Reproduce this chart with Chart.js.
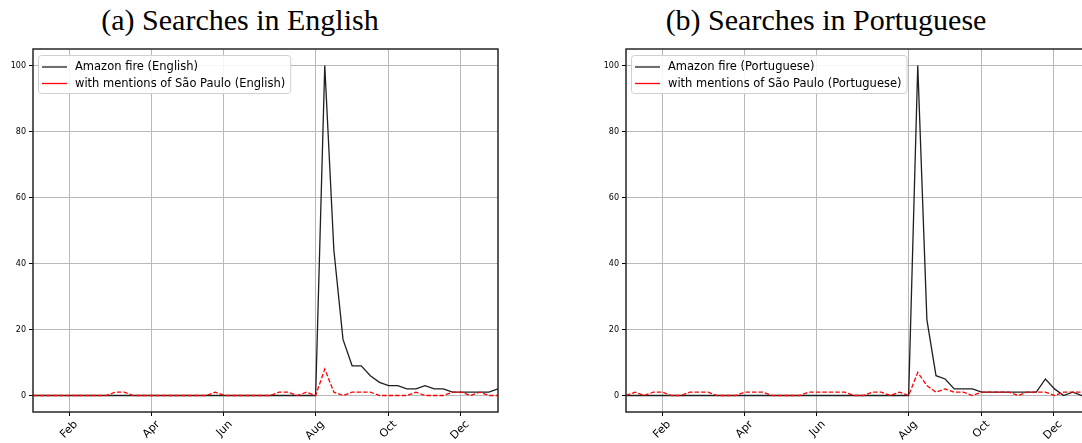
<!DOCTYPE html>
<html>
<head>
<meta charset="utf-8">
<script src="https://cdn.jsdelivr.net/npm/chart.js@4.4.1/dist/chart.umd.min.js"></script>
<style>
  html, body { margin: 0; padding: 0; background: #fff; }
  body { width: 1082px; height: 443px; overflow: hidden; position: relative; }
  canvas { position: absolute; top: 0; }
  #chartEn { left: 0; }
  #chartPt { left: 593px; }
  .caption {
    position: absolute; top: 3px; width: 500px; text-align: center;
    font-family: "Liberation Serif", serif; font-size: 30px; line-height: 34px; color: #000;
  }
</style>
</head>
<body>
<div class="caption" style="left: -10px;">(a) Searches in English</div>
<div class="caption" style="left: 576px;">(b) Searches in Portuguese</div>
<canvas id="chartEn" width="510" height="443"></canvas>
<canvas id="chartPt" width="510" height="443"></canvas>
<script>
// Weekly search interest (0-100), one value per week of the year
const englishFire = [
  0, 0, 0, 0, 0, 0, 0, 0, 0, 0, 0, 0, 0, 0, 0, 0, 0, 0, 0, 0,
  0, 0, 0, 0, 0, 0, 0, 0, 0, 0, 0, 0, 100, 44, 17, 9, 9, 6, 4, 3,
  3, 2, 2, 3, 2, 2, 1, 1, 1, 1, 1, 2
];
const englishSaoPaulo = [
  0, 0, 0, 0, 0, 0, 0, 0, 0, 1, 1, 0, 0, 0, 0, 0, 0, 0, 0, 0,
  1, 0, 0, 0, 0, 0, 0, 1, 1, 0, 1, 0, 8, 1, 0, 1, 1, 1, 0, 0,
  0, 0, 1, 0, 0, 0, 1, 1, 0, 1, 0, 0
];
const portugueseFire = [
  0, 0, 0, 0, 0, 0, 0, 0, 0, 0, 0, 0, 0, 0, 0, 0, 0, 0, 0, 0,
  0, 0, 0, 0, 0, 0, 0, 0, 0, 0, 0, 0, 100, 23, 6, 5, 2, 2, 2, 1,
  1, 1, 1, 1, 1, 1, 5, 2, 0, 1, 0, 0
];
const portugueseSaoPaulo = [
  0, 1, 0, 1, 1, 0, 0, 1, 1, 1, 0, 0, 0, 1, 1, 1, 0, 0, 0, 0,
  1, 1, 1, 1, 1, 0, 0, 1, 1, 0, 1, 0, 7, 3, 1, 2, 1, 1, 0, 1,
  1, 1, 1, 0, 1, 1, 1, 0, 1, 1, 1, 1
];

// Month labels and where they fall on the week axis
const monthLabels = ['Feb', 'Apr', 'Jun', 'Aug', 'Oct', 'Dec'];
const monthTickWeeks = [3.95, 12.95, 20.9, 31.0, 38.95, 46.9];
const yTickValues = [0, 20, 40, 60, 80, 100];

const SPINE = '#262626';
const GRID = '#b8b8b8';

// Axes frame drawn over the data, like matplotlib spines
const framePlugin = {
  id: 'frame',
  afterDatasetsDraw(chart) {
    const { ctx, chartArea: a } = chart;
    ctx.save();
    ctx.strokeStyle = SPINE;
    ctx.lineWidth = 1.5;
    ctx.strokeRect(a.left, a.top, a.right - a.left, a.bottom - a.top);
    ctx.restore();
  }
};

// Legend box in the upper-left corner of the plot area
const insideLegend = {
  id: 'insideLegend',
  afterDraw(chart) {
    const { ctx, chartArea: a } = chart;
    const sets = chart.data.datasets;
    ctx.save();
    ctx.font = '11.5px "DejaVu Sans"';
    const textW = Math.max(...sets.map(d => ctx.measureText(d.label).width));
    const x0 = a.left + 5, y0 = a.top + 6;
    const w = textW + 42, h = 38;
    ctx.beginPath();
    ctx.roundRect(x0 + 0.5, y0 + 0.5, w, h, 3);
    ctx.fillStyle = 'rgba(255,255,255,0.85)';
    ctx.fill();
    ctx.strokeStyle = '#d0d0d0';
    ctx.lineWidth = 1;
    ctx.stroke();
    sets.forEach((d, i) => {
      const cy = y0 + 12 + i * 16.5;
      ctx.beginPath();
      ctx.moveTo(x0 + 4, cy);
      ctx.lineTo(x0 + 29, cy);
      ctx.strokeStyle = d.borderColor;
      ctx.lineWidth = 1.3;
      ctx.setLineDash([]);
      ctx.stroke();
      ctx.fillStyle = '#000';
      ctx.textBaseline = 'middle';
      ctx.textAlign = 'left';
      ctx.fillText(d.label, x0 + 37, cy + 0.5);
    });
    ctx.restore();
  }
};

function makeChart(id, fire, saoPaulo, lang) {
  const toPoints = arr => arr.map((v, i) => ({ x: i, y: v }));
  return new Chart(document.getElementById(id), {
    type: 'line',
    data: {
      datasets: [
        {
          label: 'Amazon fire (' + lang + ')',
          data: toPoints(fire),
          borderColor: '#1f1f1f',
          borderWidth: 1.3,
          pointRadius: 0,
          tension: 0,
          order: 1
        },
        {
          label: 'with mentions of São Paulo (' + lang + ')',
          data: toPoints(saoPaulo),
          borderColor: '#ff0000',
          borderWidth: 1.3,
          borderDash: [4.5, 2],
          pointRadius: 0,
          tension: 0,
          order: 0
        }
      ]
    },
    options: {
      responsive: false,
      animation: false,
      devicePixelRatio: 1,
      layout: { padding: { top: 49, right: 12, bottom: 0, left: 0 } },
      plugins: { legend: { display: false }, tooltip: { enabled: false } },
      scales: {
        x: {
          type: 'linear',
          min: 0,
          max: fire.length - 1,
          afterBuildTicks: s => { s.ticks = monthTickWeeks.map(v => ({ value: v })); },
          afterFit: s => { s.height = 31; },
          ticks: {
            autoSkip: false,
            minRotation: 45,
            maxRotation: 45,
            labelOffset: 7,
            padding: 2,
            color: '#000',
            font: { family: 'DejaVu Sans', size: 11 },
            callback: (v, i) => monthLabels[i]
          },
          grid: { color: GRID, lineWidth: 1, tickLength: 4, tickColor: '#000', tickWidth: 1 },
          border: { display: false }
        },
        y: {
          min: -5,
          max: 105,
          afterBuildTicks: s => { s.ticks = yTickValues.map(v => ({ value: v })); },
          afterFit: s => { s.width = 33; },
          ticks: {
            padding: 3,
            color: '#000',
            font: { family: 'DejaVu Sans', size: 8 }
          },
          grid: { color: GRID, lineWidth: 1, tickLength: 4, tickColor: '#000', tickWidth: 1 },
          border: { display: false }
        }
      }
    },
    plugins: [framePlugin, insideLegend]
  });
}

makeChart('chartEn', englishFire, englishSaoPaulo, 'English');
makeChart('chartPt', portugueseFire, portugueseSaoPaulo, 'Portuguese');
</script>
</body>
</html>
